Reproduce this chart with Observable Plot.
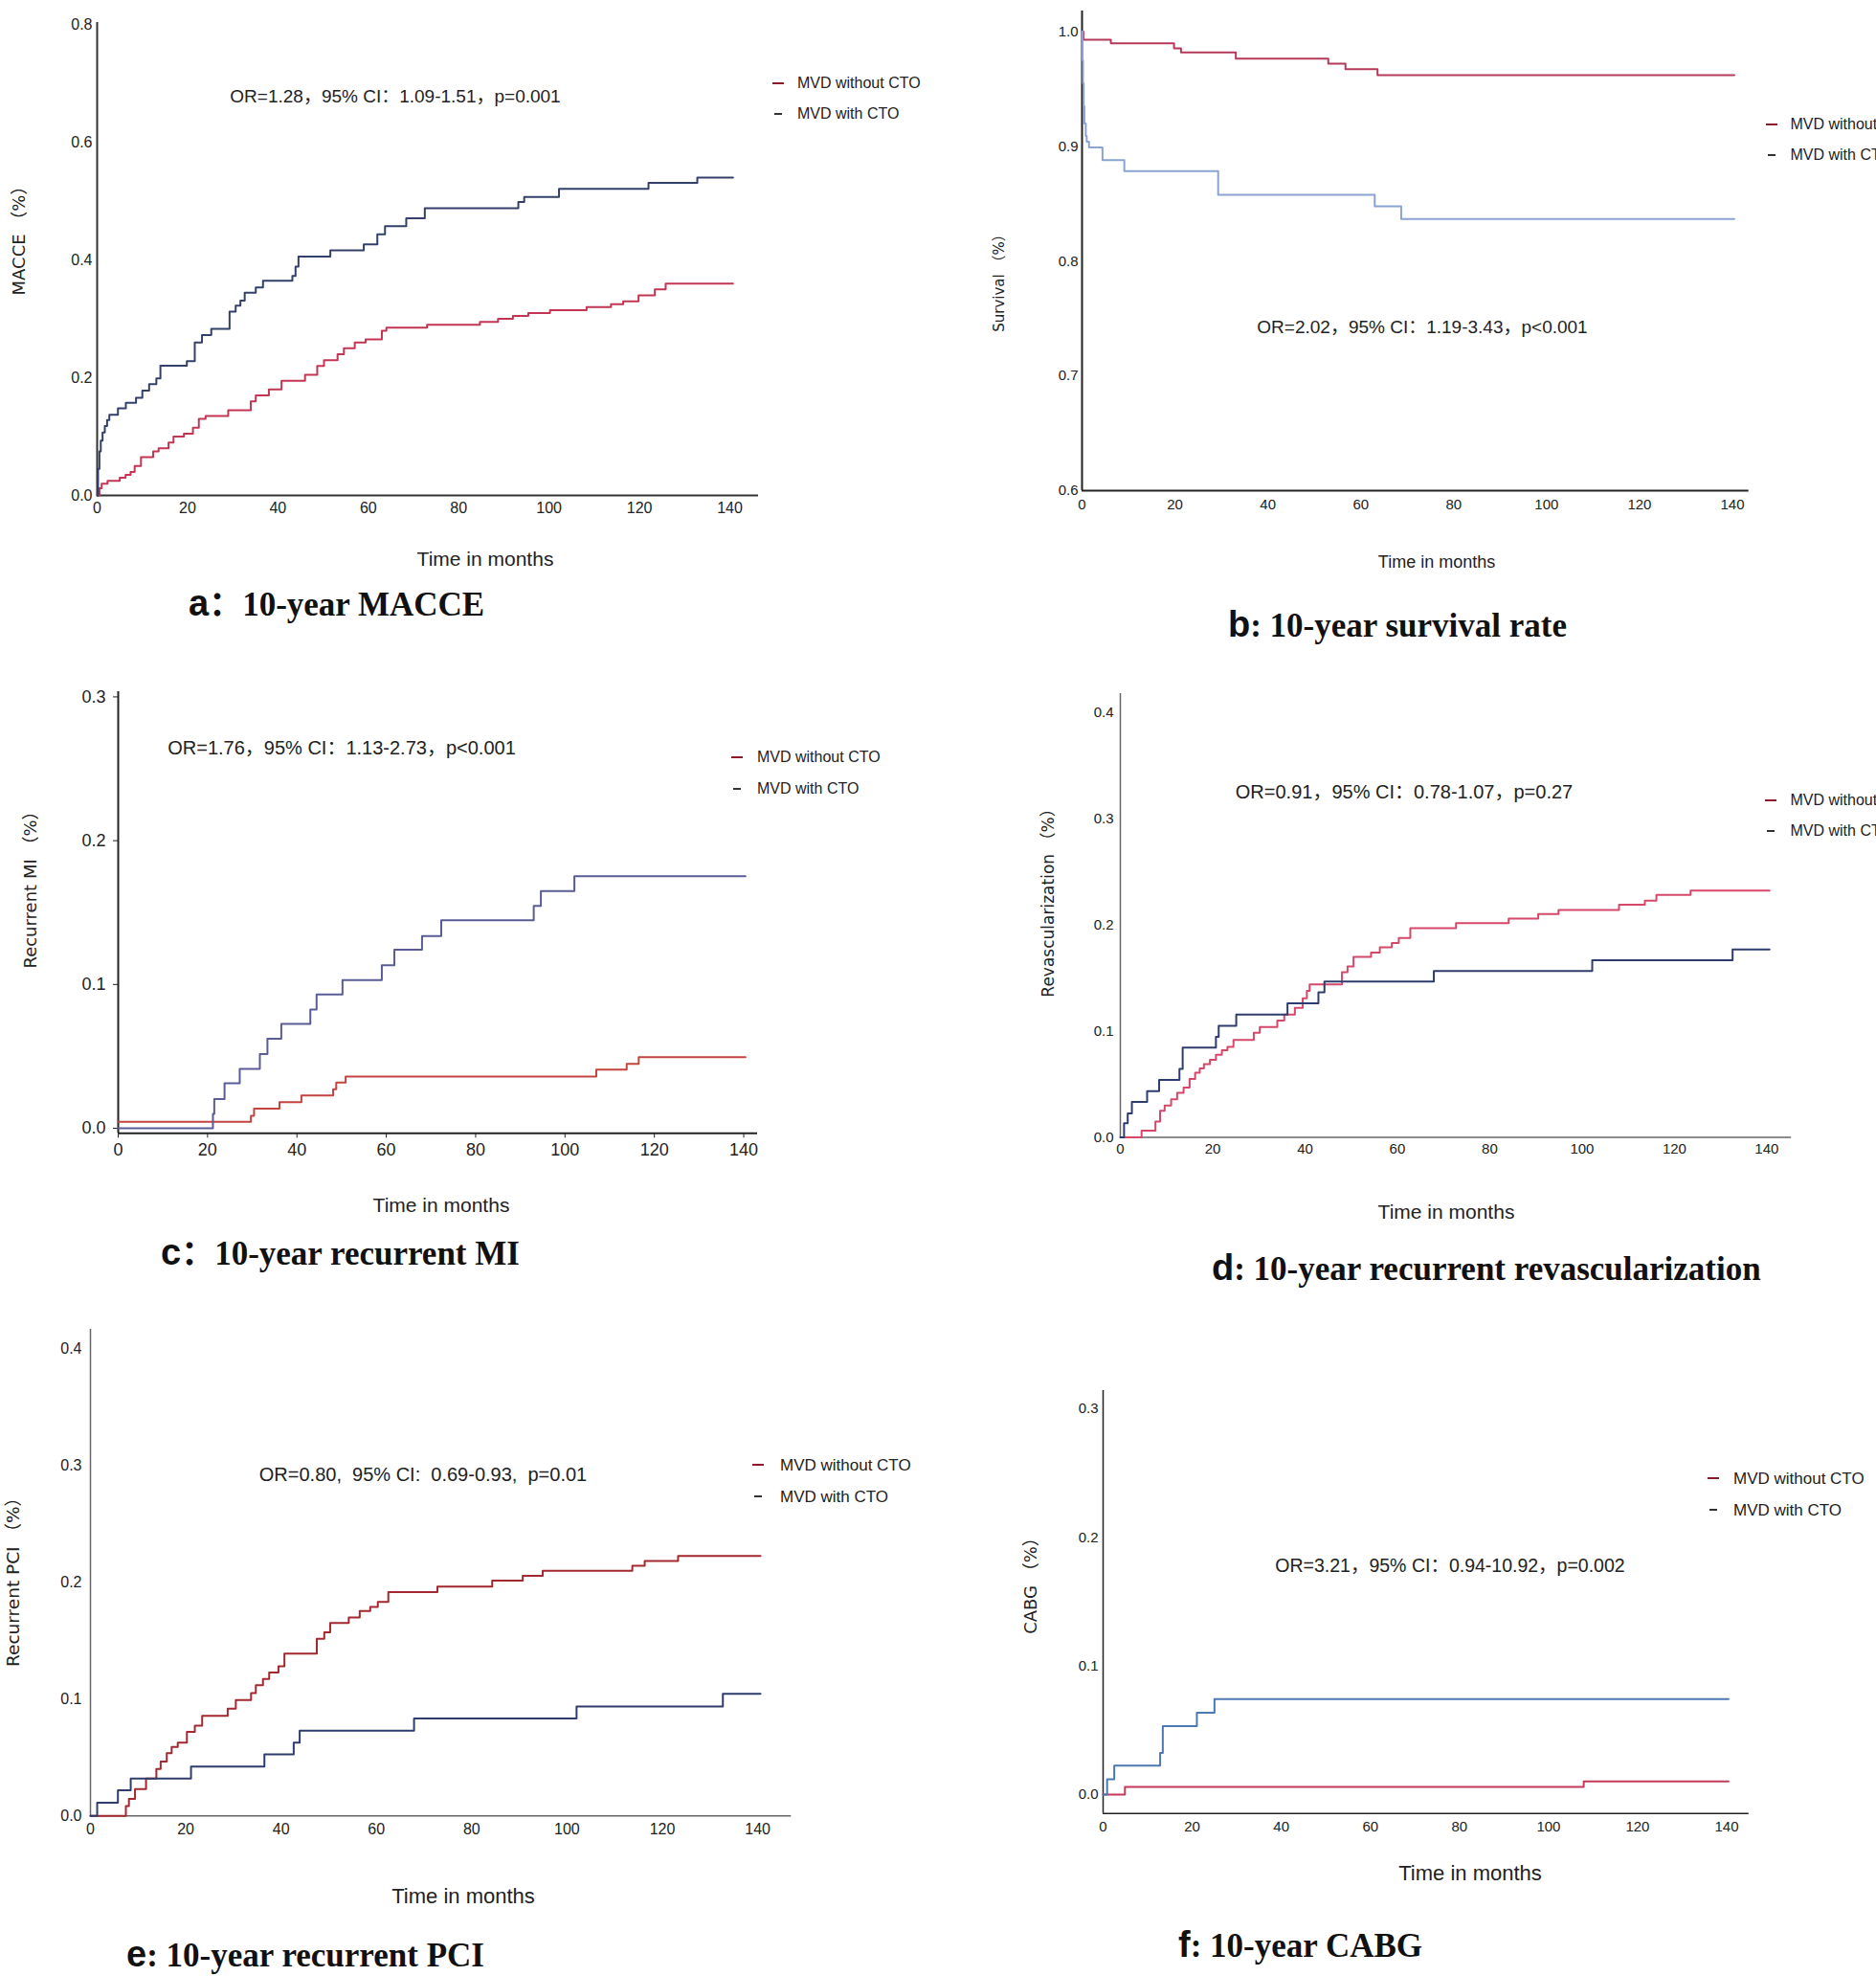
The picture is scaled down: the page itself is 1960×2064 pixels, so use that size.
<!DOCTYPE html>
<html>
<head>
<meta charset="utf-8">
<script src="https://cdn.jsdelivr.net/npm/d3@7"></script>
<script src="https://cdn.jsdelivr.net/npm/@observablehq/plot@0.6"></script>
<style>
  html, body { margin: 0; padding: 0; background: #fff; }
  #page { position: relative; width: 1960px; height: 2064px; overflow: hidden; background: #fff; }
  .t { position: absolute; white-space: pre; line-height: 1; color: #222; }
</style>
</head>
<body>
<div id="page"></div>
<script>
// ---------------- DATA ----------------
const xTicks = [0, 20, 40, 60, 80, 100, 120, 140];
const aYTicks = [0, 0.2, 0.4, 0.6, 0.8];
const bYTicks = [0.6, 0.7, 0.8, 0.9, 1.0];
const cYTicks = [0, 0.1, 0.2, 0.3];
const dYTicks = [0, 0.1, 0.2, 0.3, 0.4];
const eYTicks = [0, 0.1, 0.2, 0.3, 0.4];
const fYTicks = [0, 0.1, 0.2, 0.3];

const seriesNames = ["MVD without CTO", "MVD with CTO"];

// a: MACCE  [month, cumulative incidence]
const aWithoutCTO = [[0,0],[0.5,0.012],[1,0.02],[2.3,0.025],[5,0.03],[6.3,0.035],[7.4,0.04],[8.3,0.05],[9.7,0.065],[12.4,0.075],[13.6,0.08],[15.8,0.09],[16.9,0.1],[19.2,0.105],[21.2,0.115],[22.5,0.13],[24,0.135],[29,0.145],[34,0.16],[35.1,0.17],[38,0.18],[40.8,0.195],[46,0.205],[48.7,0.22],[50.2,0.23],[53.2,0.24],[54.6,0.25],[57,0.26],[59.4,0.265],[63,0.28],[64,0.285],[73,0.29],[84.7,0.295],[88.7,0.3],[92,0.305],[95.4,0.31],[100.2,0.315],[108.3,0.32],[113.7,0.325],[116.4,0.33],[119.8,0.34],[123.4,0.35],[125.8,0.36],[140.7,0.36]];
const aWithCTO = [[0,0],[0.2,0.045],[0.5,0.075],[0.8,0.093],[1.2,0.107],[1.7,0.118],[2.2,0.128],[2.7,0.137],[4.6,0.148],[6.35,0.1575],[8.6,0.166],[10,0.178],[11.5,0.189],[13.1,0.199],[14,0.2205],[19.85,0.228],[21.6,0.26],[23.2,0.2726],[25.25,0.283],[29.3,0.3123],[30.65,0.3226],[31.7,0.331],[32.65,0.3445],[35.1,0.3534],[36.7,0.365],[43.2,0.373],[43.9,0.389],[44.55,0.406],[51.6,0.4164],[59,0.4267],[62,0.4438],[63.7,0.4575],[68.4,0.471],[72.5,0.488],[93.2,0.4986],[94.5,0.507],[102.2,0.521],[122,0.531],[132.8,0.54],[140.7,0.54]];

// b: survival
const bWithoutCTO = [[0,1.0],[0.3,0.993],[6.2,0.9898],[19.8,0.9855],[21.3,0.9819],[33.1,0.9764],[53,0.972],[56.7,0.9674],[63.6,0.962],[140.4,0.962]];
const bWithCTO = [[0,1.0],[0.1,0.975],[0.2,0.955],[0.35,0.935],[0.5,0.92],[0.8,0.909],[1.0,0.904],[1.5,0.899],[4.4,0.888],[9.1,0.8785],[29.3,0.8578],[63,0.8477],[68.7,0.8368],[140.4,0.8368]];

// c: recurrent MI
const cWithoutCTO = [[0,0.0046],[29.7,0.0087],[30.4,0.0136],[36.1,0.0182],[41,0.0228],[48.1,0.0272],[48.8,0.0318],[50.9,0.0359],[107,0.0408],[113.8,0.0448],[116.5,0.0495],[140.4,0.0495]];
const cWithCTO = [[0,0],[21.2,0.01],[21.5,0.0204],[23.8,0.0313],[27.2,0.0413],[31.7,0.0516],[33.4,0.0622],[36.5,0.0726],[43,0.0826],[44.4,0.093],[50.2,0.103],[59,0.1133],[61.8,0.1242],[68,0.1337],[72.3,0.1446],[93,0.1546],[94.6,0.165],[102.1,0.1753],[140.4,0.1753]];

// d: recurrent revascularization
const dWithoutCTO = [[0,0],[4.6,0.0064],[7.6,0.015],[8.6,0.025],[9.6,0.03],[11,0.036],[12.3,0.042],[13.7,0.047],[15,0.055],[16.2,0.061],[17.2,0.065],[18.1,0.069],[19.4,0.073],[20.7,0.0777],[22,0.082],[23.2,0.0853],[24.5,0.0918],[28.9,0.0986],[30.2,0.104],[34,0.11],[35.5,0.1156],[37.8,0.122],[39.5,0.131],[40.4,0.138],[41,0.144],[48,0.1555],[49.2,0.161],[50.5,0.17],[54.3,0.174],[56.2,0.179],[58.8,0.183],[60.3,0.1877],[62.8,0.197],[72.7,0.2017],[84.1,0.206],[90.5,0.2104],[94.9,0.2142],[108,0.219],[113.6,0.223],[116.1,0.2283],[123.5,0.2324],[140.6,0.2324]];
const dWithCTO = [[0,0],[0.8,0.0133],[1.6,0.0227],[2.5,0.0334],[5.8,0.0436],[8.4,0.0542],[12.8,0.0645],[13.5,0.0845],[20.7,0.0948],[21.3,0.105],[25.1,0.1156],[36.2,0.1263],[42.9,0.1365],[44.2,0.1467],[67.9,0.1566],[102.2,0.1668],[132.6,0.177],[140.6,0.177]];

// e: recurrent PCI
const eWithoutCTO = [[0,0],[7.43,0.0083],[8.07,0.0145],[9.35,0.0228],[11.66,0.0319],[13.83,0.04],[14.73,0.0464],[16.01,0.0537],[17.04,0.059],[18.32,0.0627],[20.24,0.0718],[21.9,0.0772],[23.44,0.0856],[28.8,0.0917],[30.5,0.099],[33.7,0.105],[34.7,0.1117],[36.2,0.117],[37.5,0.1226],[39.45,0.128],[40.7,0.1389],[47.5,0.1516],[49.06,0.157],[50.3,0.165],[54.2,0.1697],[56.5,0.1752],[58.7,0.1788],[60.3,0.1831],[62.5,0.1915],[72.8,0.1962],[84.3,0.2013],[90.7,0.2053],[94.9,0.2096],[113.7,0.214],[116.3,0.218],[123.3,0.2223],[140.6,0.2223]];
const eWithCTO = [[0,0],[1.41,0.0112],[5.76,0.0218],[8.45,0.0319],[21.1,0.0421],[36.5,0.0526],[42.65,0.0627],[43.9,0.0729],[67.9,0.0834],[102,0.0936],[132.7,0.1044],[140.6,0.1044]];

// f: CABG
const fWithoutCTO = [[0,0],[4.9,0.0059],[107.9,0.0102],[140.4,0.0102]];
const fWithCTO = [[0,0],[0.9,0.0119],[2.5,0.0224],[12.8,0.0323],[13.4,0.0531],[21.05,0.0636],[25,0.0742],[140.4,0.0742]];

const orTexts = [
  "OR=1.28，95% CI：1.09-1.51，p=0.001",
  "OR=2.02，95% CI：1.19-3.43，p<0.001",
  "OR=1.76，95% CI：1.13-2.73，p<0.001",
  "OR=0.91，95% CI：0.78-1.07，p=0.27",
  "OR=0.80,  95% CI:  0.69-0.93,  p=0.01",
  "OR=3.21，95% CI：0.94-10.92，p=0.002"
];
const yLabels = ["MACCE （%）", "Survival （%）", "Recurrent MI （%）", "Revascularization （%）", "Recurrent PCI （%）", "CABG （%）"];
const xLabel = "Time in months";
const captionLetters = ["a", "b", "c", "d", "e", "f"];
const captionSeps = ["：", ": ", "：", ": ", ": ", ": "];
const captionTexts = ["10-year MACCE", "10-year survival rate", "10-year recurrent MI", "10-year recurrent revascularization", "10-year recurrent PCI", "10-year CABG"];

// ---------------- LAYOUT ----------------
const panels = [
  { left:101, right:792, top:23, bottom:517, xMax:146.35, yDomain:[0,0.8037], yTicks:aYTicks,
    font:16, tickSize:0, padX:7, padY:5, axisColor:"#333", axisWidth:2,
    series:[[aWithoutCTO,"#c23653"],[aWithCTO,"#33406a"]],
    or:[413,100,19], xl:[507,583,21], yl:[20,247,18], cap:[197,630],
    leg:{dash:807, text:833, y:[87,118.5], font:16} },
  { left:1130, right:1826.7, top:10.8, bottom:511.7, xMax:143.54, yDomain:[0.6,1.018], yTicks:bYTicks,
    font:15, tickSize:0, padX:9, padY:4, axisColor:"#222", axisWidth:2,
    series:[[bWithoutCTO,"#b43a5a"],[bWithCTO,"#8aa3d3"]],
    or:[1486,341,19], xl:[1501,587,18], yl:[1044,292,15], cap:[1283,652],
    leg:{dash:1845, text:1870.5, y:[130,162], font:16} },
  { left:123, right:791, top:722.4, bottom:1183.7, xMax:143.1, yDomain:[-0.0035,0.3036], yTicks:cYTicks,
    font:18, tickSize:5, padX:5, padY:8, axisColor:"#222", axisWidth:2,
    series:[[cWithoutCTO,"#c4443f"],[cWithCTO,"#5a5c96"]],
    or:[357,781,20], xl:[461,1258,21], yl:[32,925,18], cap:[168,1308],
    leg:{dash:764, text:791, y:[791,824], font:16} },
  { left:1169.6, right:1870.8, top:724.4, bottom:1188, xMax:145.35, yDomain:[0,0.4178], yTicks:dYTicks,
    font:15, tickSize:0, padX:6, padY:7, axisColor:"#666", axisWidth:1.5,
    series:[[dWithoutCTO,"#d6486a"],[dWithCTO,"#2e3c6e"]],
    or:[1467,827,20], xl:[1511,1265,21], yl:[1095,939,17], cap:[1266,1324],
    leg:{dash:1844, text:1870.5, y:[836,867.5], font:16} },
  { left:93.7, right:826, top:1387.7, bottom:1895.9, xMax:147.07, yDomain:[0,0.4163], yTicks:eYTicks,
    font:16, tickSize:0, padX:8, padY:9, axisColor:"#666", axisWidth:1.5,
    series:[[eWithoutCTO,"#a3282f"],[eWithCTO,"#2f3d6d"]],
    or:[442,1540,20], xl:[484,1981,22], yl:[14,1648,18.5], cap:[132,2041],
    leg:{dash:786, text:815, y:[1530,1562.5], font:17} },
  { left:1151.9, right:1826.7, top:1451.9, bottom:1893.7, xMax:145.0, yDomain:[-0.0148,0.3141], yTicks:fYTicks,
    font:15, tickSize:0, padX:8, padY:5, axisColor:"#222", axisWidth:1.5,
    series:[[fWithoutCTO,"#c23a5a"],[fWithCTO,"#4e78b4"]],
    or:[1515,1636,19.5], xl:[1536,1957,22], yl:[1077,1652,18], cap:[1231,2031],
    leg:{dash:1784, text:1811, y:[1544,1577], font:17} }
];

const page = document.getElementById("page");
const SANS = "'Liberation Sans', Arial, 'Noto Sans CJK SC', sans-serif";

function addText(str, x, y, size, opts = {}) {
  const el = document.createElement("div");
  el.className = "t";
  el.textContent = str;
  el.style.left = x + "px";
  el.style.top = y + "px";
  el.style.fontSize = size + "px";
  el.style.fontFamily = opts.family || SANS;
  if (opts.weight) el.style.fontWeight = opts.weight;
  el.style.transform = opts.transform || "translate(-50%, -50%)";
  page.appendChild(el);
  return el;
}

panels.forEach((p, i) => {
  const mL = 70, mR = 20, mT = 10, mB = 45;
  const w = p.right - p.left, h = p.bottom - p.top;
  const svg = Plot.plot({
    width: w + mL + mR,
    height: h + mT + mB,
    marginLeft: mL, marginRight: mR, marginTop: mT, marginBottom: mB,
    style: { fontFamily: SANS, fontSize: p.font + "px", color: "#222", background: "transparent", overflow: "visible" },
    x: { domain: [0, p.xMax], ticks: xTicks, tickSize: p.tickSize, tickPadding: p.padX, tickFormat: d => String(d), label: null },
    y: { domain: p.yDomain, ticks: p.yTicks, tickSize: p.tickSize, tickPadding: p.padY, tickFormat: d3.format(".1f"), label: null },
    marks: [
      Plot.ruleX([0], { stroke: p.axisColor, strokeWidth: p.axisWidth }),
      Plot.ruleY([p.yDomain[0]], { stroke: p.axisColor, strokeWidth: p.axisWidth }),
      ...p.series.map(([data, color]) =>
        Plot.line(data.map(([t, v]) => ({ t, v })), { x: "t", y: "v", curve: "step-after", stroke: color, strokeWidth: 2 })
      )
    ]
  });
  svg.style.position = "absolute";
  svg.style.left = (p.left - mL) + "px";
  svg.style.top = (p.top - mT) + "px";
  page.appendChild(svg);

  // OR annotation
  addText(orTexts[i], p.or[0], p.or[1], p.or[2]);
  // x axis title
  addText(xLabel, p.xl[0], p.xl[1], p.xl[2]);
  // y axis title
  addText(yLabels[i], p.yl[0], p.yl[1], p.yl[2], { family: "'DejaVu Sans', 'Noto Sans CJK SC', sans-serif", transform: "translate(-50%, -50%) rotate(-90deg)" });

  // legend
  const legColors = ["#8b1a2b", "#333"];
  const legWidths = [12, 8];
  seriesNames.forEach((name, k) => {
    const dash = document.createElement("div");
    dash.style.position = "absolute";
    dash.style.left = (p.leg.dash + (k === 1 ? 2 : 0)) + "px";
    dash.style.top = (p.leg.y[k] - 1) + "px";
    dash.style.width = legWidths[k] + "px";
    dash.style.height = "2px";
    dash.style.background = legColors[k];
    page.appendChild(dash);
    addText(name, p.leg.text, p.leg.y[k], p.leg.font, { transform: "translate(0, -50%)" });
  });

  // caption
  const cap = document.createElement("div");
  cap.className = "t";
  cap.style.left = p.cap[0] + "px";
  cap.style.top = p.cap[1] + "px";
  cap.style.transform = "translate(0, -50%)";
  cap.style.color = "#111";
  const l = document.createElement("span");
  l.textContent = captionLetters[i];
  l.style.fontFamily = SANS;
  l.style.fontWeight = "bold";
  l.style.fontSize = "38px";
  const s = document.createElement("span");
  s.textContent = captionSeps[i] + captionTexts[i];
  s.style.fontFamily = "'Liberation Serif', 'Times New Roman', 'Noto Sans CJK SC', serif";
  s.style.fontWeight = "bold";
  s.style.fontSize = "35px";
  cap.appendChild(l);
  cap.appendChild(s);
  page.appendChild(cap);
});
</script>
</body>
</html>
